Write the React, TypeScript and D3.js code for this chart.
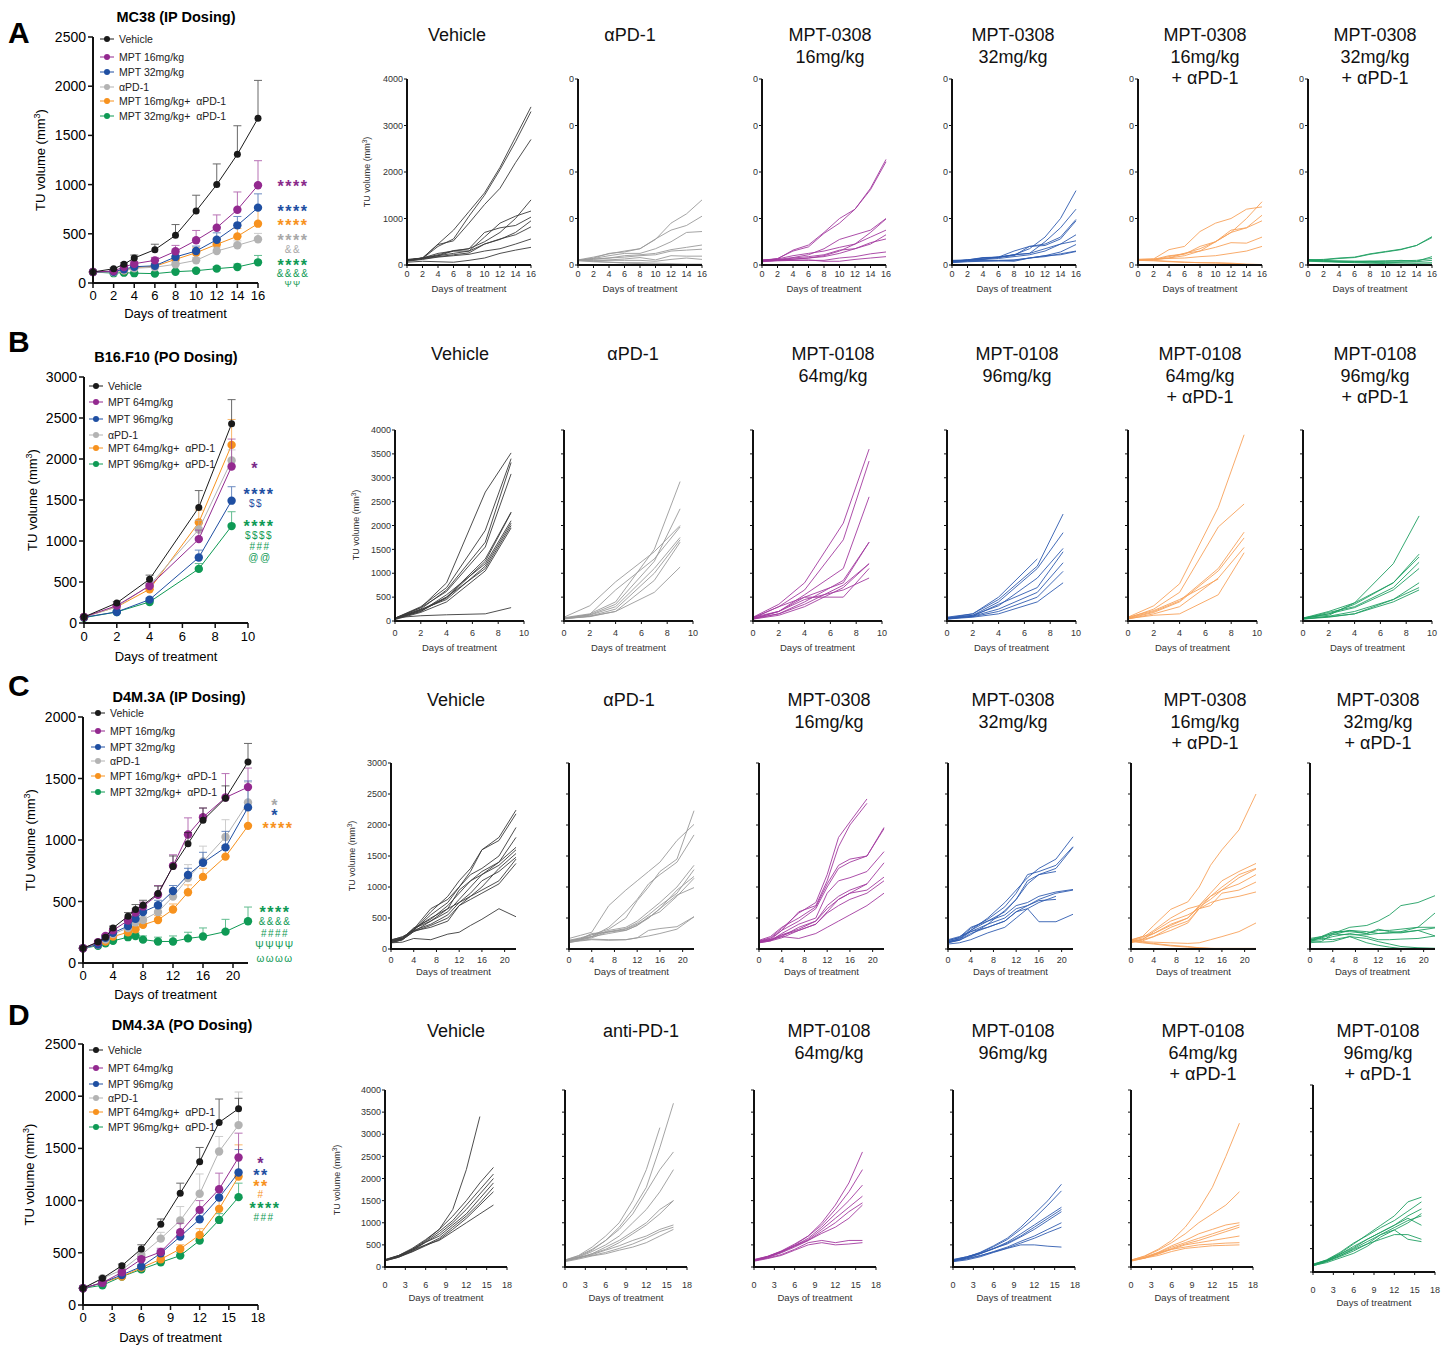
import React from 'react';
import * as d3 from 'd3';

// Tumour growth figure: group means (left) and individual mice (right) for four models.

const FONT = "'Liberation Sans', Arial, Helvetica, sans-serif";
const MEAN_COLORS = ['#1a1a1a', '#93298f', '#1f4fa2', '#b3b3b3', '#f7921e', '#0f9a55'];
const LINE_COLORS = ['#3a3a3a', '#9a9a9a', '#a33a9f', '#2f5bb0', '#f7a25a', '#1f9f62'];

// ---------- group means (mean, SEM) ----------
const daysMeanA = [0, 2, 3, 4, 6, 8, 10, 12, 14, 16];
const meanA = [
  [112, 145, 190, 254, 339, 484, 732, 1000, 1308, 1674],
  [112, 122, 163, 196, 230, 322, 434, 562, 745, 993],
  [112, 115, 140, 165, 175, 265, 325, 440, 586, 766],
  [112, 110, 130, 150, 160, 190, 230, 325, 383, 444],
  [112, 115, 130, 155, 170, 240, 308, 393, 474, 603],
  [112, 100, 105, 100, 95, 115, 125, 146, 163, 210],
];
const semA = [
  [5, 10, 15, 30, 55, 110, 160, 210, 290, 385],
  [5, 10, 15, 20, 30, 60, 100, 130, 180, 250],
  [5, 8, 12, 15, 20, 40, 50, 70, 90, 140],
  [5, 8, 10, 12, 15, 20, 30, 40, 45, 60],
  [5, 8, 10, 15, 20, 30, 50, 60, 80, 170],
  [5, 5, 8, 8, 10, 12, 15, 20, 30, 70],
];

const daysMeanB = [0, 2, 4, 7, 9];
const meanB = [
  [73, 245, 534, 1410, 2429],
  [73, 212, 452, 1023, 1908],
  [70, 135, 285, 799, 1492],
  [73, 196, 460, 1141, 1981],
  [73, 196, 412, 1227, 2172],
  [65, 135, 257, 660, 1182],
];
const semB = [
  [5, 15, 50, 205, 295],
  [5, 15, 30, 110, 335],
  [5, 10, 20, 90, 170],
  [5, 15, 30, 110, 130],
  [5, 15, 30, 150, 310],
  [5, 10, 15, 65, 175],
];

const daysMeanC = [0, 2, 3, 4, 6, 7, 8, 10, 12, 14, 16, 19, 22];
const meanC = [
  [120, 170, 210, 285, 380, 435, 470, 565, 785, 970, 1160, 1340, 1635],
  [120, 170, 220, 265, 345, 410, 460, 555, 790, 1045, 1185, 1345, 1430],
  [120, 150, 205, 245, 300, 360, 415, 470, 585, 715, 815, 940, 1265],
  [120, 150, 190, 235, 285, 330, 350, 415, 540, 690, 825, 1025, 1305],
  [120, 150, 175, 215, 250, 275, 310, 350, 435, 575, 700, 865, 1115],
  [120, 140, 160, 180, 210, 220, 190, 175, 175, 200, 215, 255, 340],
];
const semC = [
  [8, 10, 12, 15, 30, 40, 40, 60, 85, 90, 100, 100, 150],
  [8, 10, 12, 15, 25, 30, 35, 75, 90, 135, 75, 195, 155],
  [8, 10, 12, 15, 20, 25, 30, 40, 45, 55, 85, 130, 215],
  [8, 10, 12, 15, 20, 25, 30, 40, 60, 110, 125, 140, 165],
  [8, 10, 12, 15, 20, 25, 30, 35, 45, 60, 70, 90, 135],
  [8, 10, 12, 15, 20, 25, 30, 35, 45, 50, 70, 100, 115],
];

const daysMeanD = [0, 2, 4, 6, 8, 10, 12, 14, 16];
const meanD = [
  [160, 256, 377, 537, 774, 1071, 1372, 1749, 1880],
  [160, 214, 313, 438, 508, 697, 911, 1109, 1413],
  [160, 214, 288, 368, 496, 655, 822, 1029, 1269],
  [160, 256, 336, 480, 636, 809, 1065, 1471, 1723],
  [160, 214, 272, 358, 438, 537, 671, 921, 1231],
  [160, 189, 272, 342, 409, 473, 617, 815, 1033],
];
const semD = [
  [8, 10, 15, 40, 50, 96, 137, 224, 100],
  [8, 10, 15, 25, 35, 86, 89, 154, 233],
  [8, 10, 15, 20, 30, 40, 60, 80, 220],
  [8, 10, 20, 30, 60, 134, 190, 143, 317],
  [8, 10, 15, 20, 30, 40, 60, 118, 303],
  [8, 10, 15, 20, 25, 30, 40, 60, 134],
];

const legendIP = ['Vehicle', 'MPT 16mg/kg', 'MPT 32mg/kg', 'αPD-1', 'MPT 16mg/kg+  αPD-1', 'MPT 32mg/kg+  αPD-1'];
const legendPO = ['Vehicle', 'MPT 64mg/kg', 'MPT 96mg/kg', 'αPD-1', 'MPT 64mg/kg+  αPD-1', 'MPT 96mg/kg+  αPD-1'];

// significance marks: text, colour, x centre, y centre, star?
const notesA = [
  ['****', '#8a2a8a', 293, 183, 1], ['****', '#1f4fa2', 293, 208, 1], ['****', '#f7921e', 293, 222, 1],
  ['****', '#a8a8a8', 293, 237, 1], ['&&', '#a8a8a8', 293, 249, 0], ['****', '#0f9a55', 293, 262, 1],
  ['&&&&', '#0f9a55', 293, 273, 0], ['ΨΨ', '#0f9a55', 293, 283, 0],
];
const notesB = [
  ['*', '#7a2a8a', 255, 465, 1], ['****', '#1f4fa2', 259, 491, 1], ['$$', '#1f4fa2', 256, 503, 0],
  ['****', '#0f9a55', 259, 523, 1], ['$$$$', '#0f9a55', 259, 535, 0], ['###', '#0f9a55', 260, 546, 0],
  ['@@', '#0f9a55', 260, 557, 0],
];
const notesC = [
  ['*', '#a8a8a8', 275, 802, 1], ['*', '#1f4fa2', 275, 812, 1], ['****', '#f7921e', 278, 825, 1],
  ['****', '#0f9a55', 275, 909, 1], ['&&&&', '#0f9a55', 275, 921, 0], ['####', '#0f9a55', 275, 933, 0],
  ['ΨΨΨΨ', '#0f9a55', 275, 945, 0], ['ωωωω', '#0f9a55', 275, 958, 0],
];
const notesD = [
  ['*', '#7a2a8a', 261, 1160, 1], ['**', '#1f4fa2', 261, 1172, 1], ['**', '#f7921e', 261, 1183, 1],
  ['#', '#f7921e', 261, 1194, 0], ['****', '#0f9a55', 265, 1205, 1], ['###', '#0f9a55', 264, 1217, 0],
];

// ---------- individual mice ----------
const daysSpagA = [0, 2, 4, 6, 8, 10, 12, 14, 16];
const vehA = [
  [100, 150, 450, 750, 1150, 1550, 2100, 2750, 3400], [100, 140, 400, 560, 1050, 1500, 2050, 2650, 3300],
  [100, 150, 440, 520, 900, 1300, 1650, 2200, 2700], [100, 150, 250, 300, 350, 500, 700, 1000, 1400],
  [120, 150, 200, 300, 300, 600, 900, 1050, 1160], [110, 150, 220, 310, 350, 700, 800, 850, 1030],
  [100, 140, 200, 250, 300, 450, 550, 700, 950], [90, 130, 180, 220, 260, 450, 560, 650, 820],
  [80, 120, 170, 200, 230, 300, 350, 450, 560], [60, 80, 70, 60, 100, 150, 250, 320, 380],
];
const pd1A = [
  [100, 150, 250, 280, 350, 550, 900, 1100, 1400], [110, 170, 240, 300, 350, 560, 750, 850, 1050],
  [100, 140, 200, 250, 250, 350, 500, 700, 720], [110, 130, 150, 200, 220, 250, 330, 380, 430],
  [100, 120, 150, 170, 200, 220, 300, 320, 340], [120, 100, 110, 130, 160, 110, 200, 190, 190],
  [110, 90, 100, 100, 100, 80, 120, 150, 120], [100, 80, 60, 50, 50, 40, 30, 20, 20],
  [90, 70, 60, 40, 30, 20, 10, 10, 10],
];
const lowA = [
  [100, 130, 320, 430, 700, 1000, 1200, 1650, 2270], [100, 140, 300, 390, 680, 900, 1200, 1620, 2220],
  [110, 120, 160, 220, 350, 550, 650, 750, 1000], [100, 130, 200, 250, 300, 380, 450, 700, 990],
  [90, 110, 120, 150, 200, 300, 450, 600, 750], [80, 100, 150, 180, 220, 320, 350, 450, 650],
  [90, 110, 130, 150, 180, 250, 350, 480, 560], [80, 100, 100, 100, 100, 150, 180, 240, 280],
  [70, 90, 100, 110, 80, 80, 120, 150, 180],
];
const highA = [
  [100, 110, 150, 170, 220, 350, 600, 1000, 1600], [80, 110, 120, 170, 220, 250, 500, 800, 1200],
  [90, 100, 150, 170, 200, 400, 450, 600, 980], [70, 110, 160, 170, 300, 400, 420, 560, 950],
  [80, 100, 130, 160, 220, 250, 350, 450, 650], [80, 100, 120, 140, 180, 220, 300, 450, 520],
  [60, 80, 90, 90, 100, 150, 200, 280, 440], [50, 70, 80, 90, 80, 150, 180, 240, 300],
  [70, 90, 100, 100, 110, 150, 200, 220, 290],
];
const lowComboA = [
  [120, 130, 330, 400, 720, 900, 1000, 1200, 1250], [110, 120, 200, 230, 400, 500, 700, 1000, 1360],
  [100, 110, 180, 250, 350, 500, 750, 800, 1070], [110, 120, 150, 200, 300, 500, 700, 800, 950],
  [100, 110, 150, 250, 300, 380, 480, 470, 600], [120, 130, 140, 150, 180, 200, 250, 300, 400],
  [120, 100, 80, 60, 50, 40, 30, 10, 10], [100, 90, 70, 60, 50, 50, 40, 20, 10],
];
const highComboA = [
  [110, 120, 150, 170, 240, 290, 340, 420, 610], [100, 110, 140, 160, 230, 280, 330, 420, 590],
  [120, 100, 80, 80, 80, 80, 100, 80, 180], [110, 80, 70, 70, 80, 90, 90, 100, 140],
  [100, 90, 90, 80, 80, 60, 70, 70, 100], [90, 80, 70, 60, 50, 60, 50, 40, 50],
  [80, 70, 60, 50, 40, 30, 20, 20, 20],
];

const daysSpagB = [0, 2, 4, 7, 9];
const vehB = [
  [50, 280, 800, 2700, 3520], [60, 300, 700, 1900, 3400], [50, 250, 650, 1650, 3320],
  [60, 280, 620, 1550, 3080], [40, 230, 500, 1300, 2280], [50, 220, 480, 1250, 2270],
  [40, 200, 550, 1200, 2100], [60, 240, 450, 1150, 2050], [30, 180, 400, 1050, 1950],
  [50, 200, 500, 1100, 2000], [70, 110, 130, 150, 280],
];
const pd1B = [
  [70, 150, 400, 1500, 2920], [60, 130, 350, 1250, 2350], [80, 320, 820, 1450, 2000],
  [50, 140, 650, 1300, 1970], [60, 120, 300, 1100, 1750], [50, 100, 250, 1000, 1700],
  [40, 100, 200, 850, 1650], [60, 90, 200, 600, 1130],
];
const lowB = [
  [80, 350, 800, 2050, 3600], [60, 300, 650, 1700, 3350], [50, 200, 550, 1100, 2600],
  [40, 150, 400, 850, 1650], [50, 200, 500, 800, 1650], [60, 150, 350, 750, 1200],
  [40, 120, 300, 700, 1200], [70, 300, 500, 500, 1100], [80, 200, 450, 650, 900],
];
const highB = [
  [60, 150, 450, 1150, 2240], [50, 120, 400, 1100, 1850], [70, 120, 320, 900, 1520],
  [50, 100, 350, 700, 1450], [40, 100, 250, 600, 1220], [60, 90, 200, 500, 1040],
  [40, 80, 150, 400, 800], [80, 150, 500, 1300, null],
];
const lowComboB = [
  [80, 320, 780, 2380, 3900], [60, 250, 600, 1970, 2450], [60, 200, 420, 1100, 1860],
  [50, 180, 400, 1050, 1740], [40, 150, 300, 900, 1540], [50, 120, 150, 550, 1430],
  [80, 220, 450, 880, null],
];
const highComboB = [
  [60, 200, 380, 1200, 2200], [50, 150, 350, 800, 1400], [70, 120, 380, 800, 1340],
  [50, 180, 300, 700, 1230], [60, 150, 280, 650, 1100], [40, 100, 200, 450, 800],
  [50, 90, 150, 450, 700], [40, 80, 150, 400, 650],
];

const daysSpagC = [0, 2, 4, 7, 10, 12, 14, 16, 19, 22];
const vehC = [
  [130, 170, 300, 600, 850, 1100, 1300, 1600, 1800, 2240], [120, 160, 320, 650, 800, 1000, 1250, 1600, 1750, 2180],
  [110, 150, 300, 550, 750, 1000, 1200, 1300, 1500, 1960], [140, 180, 320, 500, 650, 950, 1100, 1250, 1400, 1800],
  [100, 150, 280, 450, 600, 800, 1000, 1200, 1400, 1640], [130, 170, 340, 480, 700, 900, 1100, 1200, 1350, 1600],
  [150, 190, 300, 400, 550, 750, 850, 1000, 1300, 1540], [120, 170, 330, 450, 650, 750, 900, 1100, 1250, 1480],
  [100, 150, 280, 380, 500, 700, 850, 950, 1100, 1450], [140, 200, 290, 350, 450, 700, 800, 900, 1050, 1380],
  [100, 110, 170, 150, 240, 270, 380, 480, 650, 520],
];
const pd1C = [
  [170, 220, 270, 700, 950, 1100, 1250, 1400, 1750, 2010], [140, 180, 230, 320, 500, 780, 1000, 1250, 1450, 2230],
  [130, 170, 200, 350, 600, 800, 1050, 1200, 1400, 1840], [120, 160, 200, 300, 350, 450, 600, 750, 1000, 1350],
  [110, 150, 180, 280, 330, 420, 550, 700, 900, 1280], [130, 160, 250, 270, 320, 400, 500, 650, 950, 1170],
  [100, 140, 200, 250, 300, 380, 520, 600, 850, 1140], [140, 160, 230, 280, 300, 380, 500, 650, 870, 990],
  [110, 130, 150, 140, 150, 180, 300, 330, 360, 520], [120, 140, 160, 150, 150, 180, 210, 250, 320, 520],
];
const lowC = [
  [130, 180, 330, 580, 750, 1200, 1800, 2050, 2420, null], [120, 170, 300, 600, 700, 1100, 1650, 2000, 2350, null],
  [140, 200, 350, 500, 680, 1050, 1350, 1450, 1500, 1960], [110, 150, 300, 450, 650, 1000, 1300, 1400, 1500, 1940],
  [100, 130, 250, 400, 500, 900, 1100, 1150, 1250, 1570], [120, 150, 230, 320, 450, 700, 850, 950, 1050, 1390],
  [110, 140, 200, 350, 450, 650, 800, 900, 950, 1160], [100, 130, 180, 300, 400, 580, 700, 800, 900, 1100],
  [130, 150, 200, 170, 250, 350, 450, 550, 700, 900], [110, 140, 220, 300, 400, 600, 800, 900, 1050, null],
];
const highC = [
  [120, 160, 300, 500, 750, 950, 1150, 1300, 1450, 1810], [140, 180, 330, 480, 680, 900, 1200, 1250, 1350, 1650],
  [100, 150, 280, 400, 620, 800, 1100, 1200, 1300, 1640], [110, 170, 300, 450, 600, 800, 1050, 1200, 1250, null],
  [130, 190, 350, 450, 550, 700, 750, 850, 920, 960], [100, 140, 230, 400, 500, 650, 700, 800, 900, 950],
  [150, 200, 280, 350, 450, 600, 650, 440, 440, 560], [80, 100, 150, 260, 350, 500, 650, 750, 850, null],
  [120, 140, 250, 350, 450, 600, 700, 780, 800, null],
];
const lowComboC = [
  [150, 200, 380, 640, 760, 1000, 1350, 1600, 1920, 2500], [130, 180, 300, 500, 650, 700, 900, 1100, 1250, 1380],
  [100, 150, 280, 450, 550, 650, 850, 1000, 1200, 1300], [140, 200, 250, 400, 500, 680, 800, 950, 1150, 1290],
  [120, 160, 250, 380, 500, 700, 850, 950, 1050, 1200], [110, 150, 200, 350, 450, 650, 700, 900, 950, 1080],
  [150, 130, 200, 300, 420, 650, 750, 800, 850, 920], [140, 120, 110, 100, 90, 100, 150, 200, 280, 420],
  [130, 110, 90, 60, 40, 20, 10, 10, 10, 10], [120, 100, 80, 50, 30, 20, 10, 5, 5, 5],
];
const highComboC = [
  [150, 200, 250, 350, 380, 450, 550, 700, 750, 860], [140, 180, 230, 300, 250, 300, 300, 320, 350, 580],
  [120, 190, 260, 300, 280, 250, 260, 280, 350, 350], [170, 200, 280, 280, 250, 320, 280, 270, 300, 210],
  [130, 150, 200, 250, 200, 150, 150, 160, 170, 210], [150, 170, 150, 200, 170, 120, 80, 40, 20, 10],
  [120, 110, 120, 200, 100, 60, 30, 10, 10, 10], [100, 120, 240, 230, 230, 250, 260, 260, 300, 340],
];

const daysSpagD = [0, 2, 4, 6, 8, 10, 12, 14, 16];
const vehD = [
  [150, 250, 400, 600, 850, 1300, 2200, 3400, null], [160, 260, 420, 620, 850, 1150, 1500, 1900, 2250],
  [150, 230, 380, 580, 800, 1050, 1400, 1750, 2100], [140, 220, 360, 560, 750, 1000, 1300, 1650, 2000],
  [170, 260, 400, 560, 700, 950, 1200, 1550, 1900], [150, 240, 350, 500, 650, 900, 1150, 1450, 1800],
  [140, 220, 340, 480, 620, 850, 1100, 1400, 1700], [160, 250, 380, 500, 600, 800, 1000, 1200, 1400],
];
const pd1D = [
  [150, 250, 400, 600, 900, 1300, 1800, 2700, 3700], [160, 260, 450, 700, 1000, 1500, 2200, 3150, null],
  [140, 230, 380, 600, 850, 1200, 1700, 2200, 2600], [150, 220, 350, 500, 700, 1000, 1300, 1700, 2200],
  [130, 200, 300, 450, 600, 800, 1000, 1300, 1500], [150, 210, 300, 400, 550, 750, 950, 1200, 1500],
  [140, 200, 280, 380, 480, 600, 700, 850, 950], [160, 220, 260, 330, 420, 520, 650, 800, 900],
  [120, 180, 250, 300, 380, 450, 550, 700, 850],
];
const lowD = [
  [150, 230, 350, 500, 700, 1000, 1400, 1900, 2600], [160, 240, 360, 520, 700, 950, 1300, 1700, 2200],
  [140, 220, 330, 480, 650, 900, 1200, 1500, 1850], [150, 230, 340, 480, 620, 850, 1100, 1350, 1600],
  [170, 240, 350, 470, 600, 800, 1000, 1250, 1450], [140, 210, 320, 450, 600, 760, 900, 1100, 1400],
  [150, 200, 280, 400, 550, 600, 550, 600, 600], [130, 190, 260, 380, 500, 550, 500, 520, 550],
];
const highD = [
  [150, 220, 330, 480, 650, 900, 1200, 1500, 1870], [160, 230, 320, 460, 620, 850, 1100, 1400, 1720],
  [140, 200, 300, 420, 560, 750, 950, 1150, 1350], [150, 210, 300, 410, 540, 700, 900, 1100, 1300],
  [170, 230, 310, 420, 520, 680, 850, 1050, 1250], [130, 180, 250, 350, 450, 580, 700, 850, 1000],
  [140, 190, 260, 340, 430, 540, 650, 780, 900], [120, 160, 230, 330, 420, 500, 500, 470, 450],
];
const lowComboD = [
  [150, 250, 400, 600, 900, 1300, 1800, 2500, 3250], [160, 240, 380, 550, 750, 1000, 1200, 1400, 1700],
  [140, 220, 330, 480, 600, 750, 850, 950, 1000], [150, 220, 320, 450, 550, 650, 750, 850, 950],
  [130, 200, 300, 420, 520, 600, 700, 800, 900], [150, 210, 290, 400, 500, 550, 600, 650, 700],
  [140, 200, 320, 400, 450, 500, 520, 540, 550], [160, 200, 260, 350, 420, 450, 480, 490, 500],
];
const highComboD = [
  [150, 250, 400, 600, 800, 1000, 1200, 1500, 1600], [160, 260, 420, 620, 780, 950, 1100, 1300, 1500],
  [140, 240, 380, 550, 700, 850, 1000, 1200, 1350], [150, 230, 350, 500, 650, 800, 950, 1100, 1200],
  [170, 250, 380, 520, 700, 850, 1000, 1150, 1000], [130, 220, 330, 450, 600, 700, 800, 800, 700],
  [150, 230, 350, 480, 600, 800, 900, 700, 650], [140, 200, 300, 400, 550, 750, 900, 1050, 1250],
];

const titlesIP = [['Vehicle'], ['αPD-1'], ['MPT-0308', '16mg/kg'], ['MPT-0308', '32mg/kg'],
  ['MPT-0308', '16mg/kg', '+ αPD-1'], ['MPT-0308', '32mg/kg', '+ αPD-1']];
const titlesB = [['Vehicle'], ['αPD-1'], ['MPT-0108', '64mg/kg'], ['MPT-0108', '96mg/kg'],
  ['MPT-0108', '64mg/kg', '+ αPD-1'], ['MPT-0108', '96mg/kg', '+ αPD-1']];
const titlesD = [['Vehicle'], ['anti-PD-1'], ['MPT-0108', '64mg/kg'], ['MPT-0108', '96mg/kg'],
  ['MPT-0108', '64mg/kg', '+ αPD-1'], ['MPT-0108', '96mg/kg', '+ αPD-1']];

// ---------- layout ----------
const ROWS = [
  {
    letter: 'A', letterY: 43, title: 'MC38 (IP Dosing)', titleX: 176, titleY: 22,
    mx: [93, 258], my: [283, 37], yMax: 2500, yStep: 500, xMax: 16, xTicks: [0, 2, 4, 6, 8, 10, 12, 14, 16],
    tickY: 300, xLabelY: 318, yLabelX: 45, legendX: 107, legendYs: [39, 57, 72, 87, 101, 116],
    days: daysMeanA, means: meanA, sems: semA, legend: legendIP, notes: notesA,
    s: {
      axes: [407, 578, 762, 952, 1138, 1308], w: 124, yTop: 79, yBot: 265, yMax: 4000, yStep: 1000,
      xMax: 16, xTicks: [0, 2, 4, 6, 8, 10, 12, 14, 16], titleXs: [457, 630, 830, 1013, 1205, 1375],
      titleYs: [41, 63, 84], tickY: 277, xLabelY: 292, yLabelX: 370, yLabelY: 172, clipLabels: true,
      days: daysSpagA, sets: [vehA, pd1A, lowA, highA, lowComboA, highComboA], titles: titlesIP,
    },
  },
  {
    letter: 'B', letterY: 352, title: 'B16.F10 (PO Dosing)', titleX: 166, titleY: 362,
    mx: [84, 248], my: [623, 377], yMax: 3000, yStep: 500, xMax: 10, xTicks: [0, 2, 4, 6, 8, 10],
    tickY: 641, xLabelY: 661, yLabelX: 37, legendX: 96, legendYs: [386, 402, 419, 435, 448, 464],
    days: daysMeanB, means: meanB, sems: semB, legend: legendPO, notes: notesB,
    s: {
      axes: [395, 564, 753, 947, 1128, 1303], w: 129, yTop: 430, yBot: 621, yMax: 4000, yStep: 500,
      xMax: 10, xTicks: [0, 2, 4, 6, 8, 10], titleXs: [460, 633, 833, 1017, 1200, 1375],
      titleYs: [360, 382, 403], tickY: 636, xLabelY: 651, yLabelX: 359, yLabelY: 525, clipLabels: false,
      days: daysSpagB, sets: [vehB, pd1B, lowB, highB, lowComboB, highComboB], titles: titlesB,
    },
  },
  {
    letter: 'C', letterY: 696, title: 'D4M.3A (IP Dosing)', titleX: 179, titleY: 702,
    mx: [83, 248], my: [963, 717], yMax: 2000, yStep: 500, xMax: 22, xTicks: [0, 4, 8, 12, 16, 20],
    tickY: 980, xLabelY: 999, yLabelX: 35, legendX: 98, legendYs: [713, 731, 747, 761, 776, 792],
    days: daysMeanC, means: meanC, sems: semC, legend: legendIP, notes: notesC,
    s: {
      axes: [391, 569, 759, 948, 1131, 1310], w: 125, yTop: 763, yBot: 949, yMax: 3000, yStep: 500,
      xMax: 22, xTicks: [0, 4, 8, 12, 16, 20], titleXs: [456, 629, 829, 1013, 1205, 1378],
      titleYs: [706, 728, 749], tickY: 963, xLabelY: 975, yLabelX: 355, yLabelY: 856, clipLabels: false,
      days: daysSpagC, sets: [vehC, pd1C, lowC, highC, lowComboC, highComboC], titles: titlesIP,
    },
  },
  {
    letter: 'D', letterY: 1025, title: 'DM4.3A (PO Dosing)', titleX: 182, titleY: 1030,
    mx: [83, 258], my: [1305, 1044], yMax: 2500, yStep: 500, xMax: 18, xTicks: [0, 3, 6, 9, 12, 15, 18],
    tickY: 1322, xLabelY: 1342, yLabelX: 34, legendX: 96, legendYs: [1050, 1068, 1084, 1098, 1112, 1127],
    days: daysMeanD, means: meanD, sems: semD, legend: legendPO, notes: notesD,
    s: {
      axes: [385, 565, 754, 953, 1131, 1313], w: 122, yTop: 1090, yBot: 1267, yMax: 4000, yStep: 500,
      xMax: 18, xTicks: [0, 3, 6, 9, 12, 15, 18], titleXs: [456, 641, 829, 1013, 1203, 1378],
      titleYs: [1037, 1059, 1080], tickY: 1288, xLabelY: 1301, yLabelX: 340, yLabelY: 1180, clipLabels: false,
      days: daysSpagD, sets: [vehD, pd1D, lowD, highD, lowComboD, highComboD], titles: titlesD,
      override: { 5: { yTop: 1085, yBot: 1272 } },
    },
  },
];

function MeanChart({ r }: { r: any }) {
  const x = d3.scaleLinear().domain([0, r.xMax]).range(r.mx);
  const y = d3.scaleLinear().domain([0, r.yMax]).range(r.my);
  const yTicks = d3.range(0, r.yMax + 1, r.yStep);
  const line = d3.line<number>().x((_, i) => x(r.days[i])).y((v) => y(v));
  const order = [5, 4, 3, 2, 1, 0];
  const [x0, x1] = r.mx;
  const [y0, y1] = r.my;
  return (
    <g>
      <text x={8} y={r.letterY} fontSize={30} fontWeight="bold">{r.letter}</text>
      <text x={r.titleX} y={r.titleY} textAnchor="middle" fontSize={14.5} fontWeight="bold">{r.title}</text>
      {order.map((k) => {
        const c = MEAN_COLORS[k];
        return (
          <g key={k}>
            {r.days.map((d: number, i: number) => {
              const m = r.means[k][i];
              const top = y(m + r.sems[k][i]);
              return (
                <g key={i} stroke={c} strokeWidth={1} opacity={0.65}>
                  <line x1={x(d)} x2={x(d)} y1={y(m)} y2={top} />
                  <line x1={x(d) - 4} x2={x(d) + 4} y1={top} y2={top} />
                </g>
              );
            })}
            <path d={line(r.means[k]) || ''} fill="none" stroke={c} strokeWidth={1} />
            {r.days.map((d: number, i: number) => (
              <circle key={i} cx={x(d)} cy={y(r.means[k][i])} r={k === 0 ? 3.5 : 4.2} fill={c} />
            ))}
          </g>
        );
      })}
      {/* axes */}
      <line x1={x0} x2={x0} y1={y1} y2={y0 + 1} stroke="#111" strokeWidth={2} />
      <line x1={x0 - 1} x2={x1} y1={y0} y2={y0} stroke="#111" strokeWidth={2} />
      {yTicks.map((t) => (
        <g key={t}>
          <line x1={x0 - 5} x2={x0} y1={y(t)} y2={y(t)} stroke="#111" strokeWidth={1.5} />
          <text x={x0 - 7} y={y(t) + 5} textAnchor="end" fontSize={14}>{t}</text>
        </g>
      ))}
      {r.xTicks.map((t: number) => (
        <g key={t}>
          <line x1={x(t)} x2={x(t)} y1={y0} y2={y0 + 5} stroke="#111" strokeWidth={1.5} />
          <text x={x(t)} y={r.tickY} textAnchor="middle" fontSize={13}>{t}</text>
        </g>
      ))}
      <text x={(x0 + x1) / 2} y={r.xLabelY} textAnchor="middle" fontSize={13}>Days of treatment</text>
      <text transform={`translate(${r.yLabelX},${(y0 + y1) / 2}) rotate(-90)`} textAnchor="middle" fontSize={13}>
        TU volume (mm<tspan fontSize={9} dy={-5}>3</tspan><tspan dy={5}>)</tspan>
      </text>
      {/* legend */}
      {r.legend.map((lab: string, k: number) => (
        <g key={k}>
          <line x1={r.legendX - 7} x2={r.legendX + 7} y1={r.legendYs[k]} y2={r.legendYs[k]} stroke={MEAN_COLORS[k]} strokeWidth={1} />
          <circle cx={r.legendX} cy={r.legendYs[k]} r={3} fill={MEAN_COLORS[k]} />
          <text x={r.legendX + 12} y={r.legendYs[k] + 3.5} fontSize={10.5} fill="#222" style={{ whiteSpace: 'pre' }}>{lab}</text>
        </g>
      ))}
      {r.notes.map((n: any[], i: number) => {
        const star = n[4] === 1;
        const fs = star ? 16 : n[0] === 'ΨΨ' ? 8.5 : 10;
        return (
          <text key={i} x={n[2]} y={star ? n[3] + 9 : n[3] + 3.5} textAnchor="middle" fontSize={fs}
            fill={n[1]} letterSpacing={star ? 1.5 : 1.5} fontWeight={star ? 'bold' : 'normal'}>{n[0]}</text>
        );
      })}
    </g>
  );
}

function Panel({ s, p, rowKey }: { s: any; p: number; rowKey: string }) {
  const ov = s.override?.[p] || {};
  const yTop = ov.yTop ?? s.yTop;
  const yBot = ov.yBot ?? s.yBot;
  const ax = s.axes[p];
  const x = d3.scaleLinear().domain([0, s.xMax]).range([ax, ax + s.w]);
  const y = d3.scaleLinear().domain([0, s.yMax]).range([yBot, yTop]);
  const yTicks = d3.range(0, s.yMax + 1, s.yStep);
  const gen = d3.line<number | null>()
    .defined((v) => v != null)
    .x((_, i) => x(s.days[i]))
    .y((v) => y(v as number));
  const clipId = `clip-${rowKey}-${p}`;
  const showLabels = p === 0 || s.clipLabels;
  const tickY = s.tickY + (yBot - s.yBot);
  const xLabelY = s.xLabelY + (yBot - s.yBot);
  const cx = s.titleXs[p];
  return (
    <g>
      {s.titles[p].map((t: string, i: number) => (
        <text key={i} x={cx} y={s.titleYs[i]} textAnchor="middle" fontSize={18} fill="#111">{t}</text>
      ))}
      {s.sets[p].map((ln: (number | null)[], i: number) => (
        <path key={i} d={gen(ln) || ''} fill="none" stroke={LINE_COLORS[p]} strokeWidth={0.9} />
      ))}
      <line x1={ax} x2={ax} y1={yTop} y2={yBot + 1} stroke="#111" strokeWidth={2} />
      <line x1={ax - 1} x2={ax + s.w} y1={yBot} y2={yBot} stroke="#111" strokeWidth={2} />
      {p > 0 && s.clipLabels && (
        <defs>
          <clipPath id={clipId}><rect x={ax - 9} y={yTop - 10} width={9} height={yBot - yTop + 20} /></clipPath>
        </defs>
      )}
      <g clipPath={p > 0 && s.clipLabels ? `url(#${clipId})` : undefined}>
        {yTicks.map((t: number) => (
          <g key={t}>
            <line x1={ax - 3} x2={ax} y1={y(t)} y2={y(t)} stroke="#111" strokeWidth={1} />
            {showLabels && (
              <text x={ax - 4} y={y(t) + 3.2} textAnchor="end" fontSize={9} fill="#333">{t}</text>
            )}
          </g>
        ))}
      </g>
      {s.xTicks.map((t: number) => (
        <g key={t}>
          <line x1={x(t)} x2={x(t)} y1={yBot} y2={yBot + 3} stroke="#111" strokeWidth={1} />
          <text x={x(t)} y={tickY} textAnchor="middle" fontSize={9} fill="#333">{t}</text>
        </g>
      ))}
      <text x={ax + s.w / 2} y={xLabelY} textAnchor="middle" fontSize={9.5} fill="#333">Days of treatment</text>
      {p === 0 && (
        <text transform={`translate(${s.yLabelX},${s.yLabelY}) rotate(-90)`} textAnchor="middle" fontSize={9} fill="#333">
          TU volume (mm<tspan fontSize={6.5} dy={-3.5}>3</tspan><tspan dy={3.5}>)</tspan>
        </text>
      )}
    </g>
  );
}

export default function App() {
  return (
    <svg width={1452} height={1346} viewBox="0 0 1452 1346"
      style={{ position: 'absolute', left: 0, top: 0, background: '#fff', fontFamily: FONT }}>
      <rect width={1452} height={1346} fill="#fff" />
      {ROWS.map((r) => (
        <g key={r.letter}>
          <MeanChart r={r} />
          {[0, 1, 2, 3, 4, 5].map((p) => (
            <Panel key={p} s={r.s} p={p} rowKey={r.letter} />
          ))}
        </g>
      ))}
    </svg>
  );
}
